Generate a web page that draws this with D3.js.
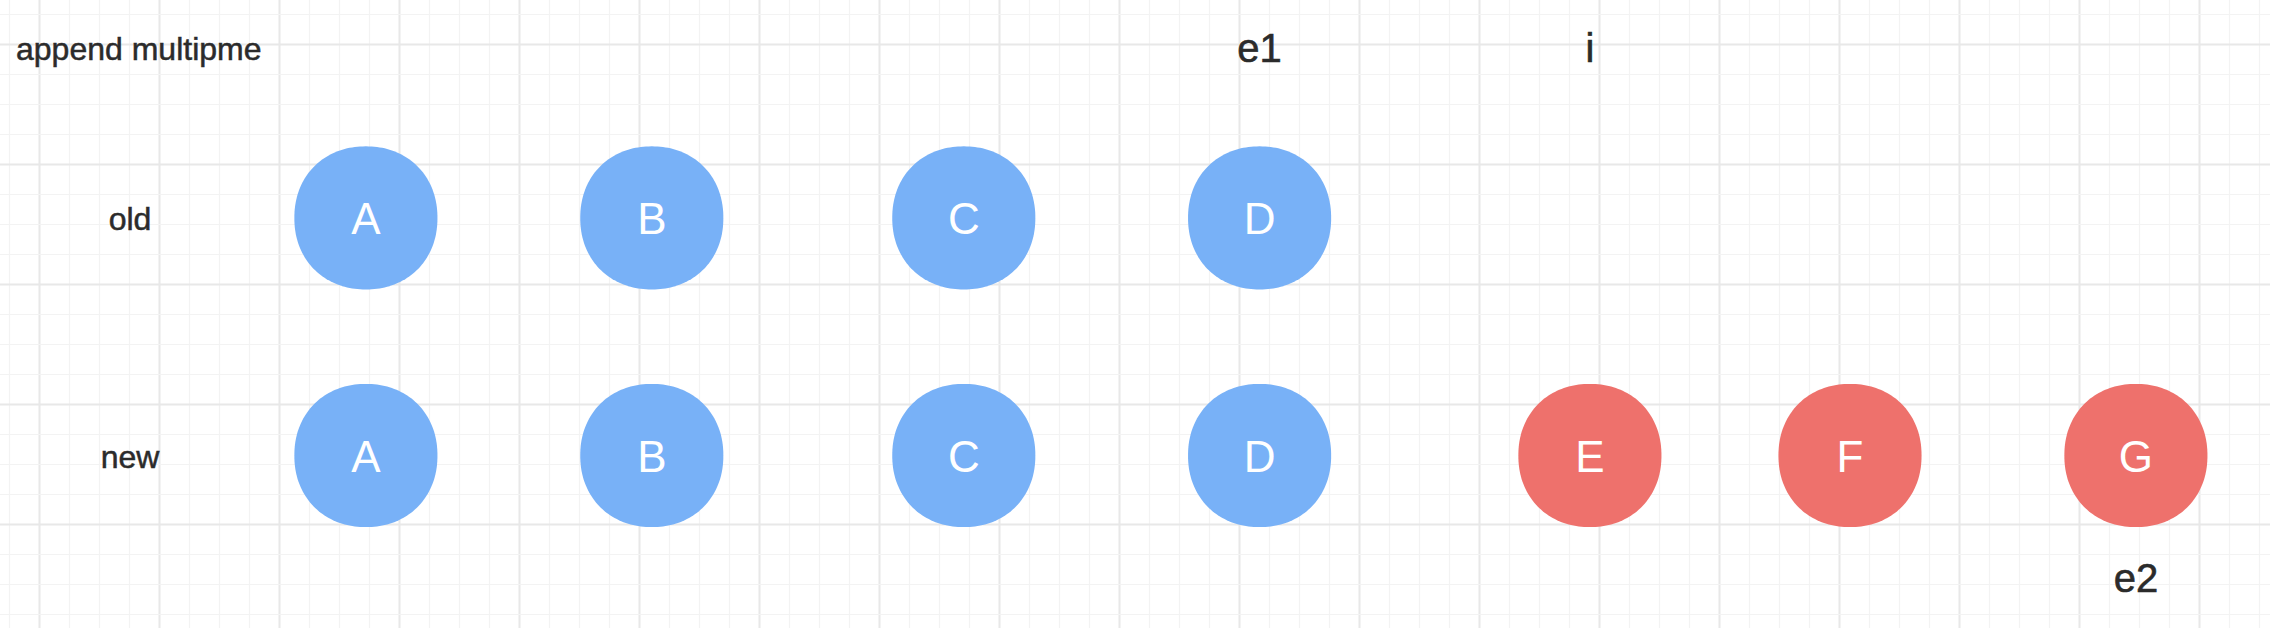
<!DOCTYPE html>
<html>
<head>
<meta charset="utf-8">
<script src="https://cdn.jsdelivr.net/npm/d3@7"></script>
<style>
  body { margin: 0; background: #fff; }
  svg { display: block; }
</style>
</head>
<body>
<svg id="board"></svg>
<script>
var width = 2270,
    height = 628;

// board data, positions in grid cells
let columns = ['A', 'B', 'C', 'D', 'E', 'F', 'G'],
    columnAt = [10.88, 20.41, 30.81, 40.67, 51.68, 60.35, 69.88],
    rows = ['old', 'new'],
    rowAt = [5.78, 13.7],
    oldList = ['A', 'B', 'C', 'D'],
    newList = ['A', 'B', 'C', 'D', 'E', 'F', 'G'],
    newState = ['keep', 'keep', 'keep', 'keep', 'add', 'add', 'add'],
    pointers = ['e1', 'i', 'e2'],
    pointerCol = ['D', 'E', 'G'],
    pointerRow = ['old', 'old', 'new'],
    title = 'append multipme';

let svg = d3.select('#board').attr('width', width).attr('height', height);

// 1 unit = one small grid cell (30px)
let x = d3.scaleLinear().domain([0, 1]).range([39.5, 69.5]),
    y = d3.scaleLinear().domain([0, 1]).range([44.5, 74.5]),
    colX = d3.scaleOrdinal().domain(columns).range(columnAt.map(function(d){ return x(d); })),
    rowY = d3.scaleOrdinal().domain(rows).range(rowAt.map(function(d){ return y(d); })),
    fill = d3.scaleOrdinal().domain(['keep', 'add']).range(['#78b1f7', '#ee716c']);

// grid
let gridX = d3.range(-1, 76), gridY = d3.range(-1, 21);
svg.append('rect').attr('width', width).attr('height', height).attr('fill', '#fff');
let grid = svg.append('g').attr('class', 'grid');
grid.selectAll('.vx')
    .data(gridX)
    .enter()
    .append('line')
    .attr('x1', function(d){ return x(d); })
    .attr('x2', function(d){ return x(d); })
    .attr('y1', 0)
    .attr('y2', height)
    .attr('stroke', function(d){ return d % 4 === 0 ? '#e8e8e8' : '#f3f3f3'; })
    .attr('stroke-width', function(d){ return d % 4 === 0 ? 2 : 1.2; });
grid.selectAll('.hy')
    .data(gridY)
    .enter()
    .append('line')
    .attr('y1', function(d){ return y(d); })
    .attr('y2', function(d){ return y(d); })
    .attr('x1', 0)
    .attr('x2', width)
    .attr('stroke', function(d){ return d % 4 === 0 ? '#e8e8e8' : '#f3f3f3'; })
    .attr('stroke-width', function(d){ return d % 4 === 0 ? 2 : 1.2; });

// rounded blob shape (superellipse)
let half = (x(4.77) - x(0)) / 2;
function blob(r, n) {
    let pts = d3.range(0, 2 * Math.PI, Math.PI / 90).map(function(t){
        let c = Math.cos(t), s = Math.sin(t);
        return [r * Math.sign(c) * Math.pow(Math.abs(c), 2 / n),
                r * Math.sign(s) * Math.pow(Math.abs(s), 2 / n)];
    });
    return d3.line().curve(d3.curveLinearClosed)(pts);
}
let blobPath = blob(half, 2.12);

let font = 'Liberation Sans, Arial, Helvetica, sans-serif';

function drawRow(list, states, row) {
    let g = svg.append('g').attr('class', 'row-' + row);
    let node = g.selectAll('.node')
        .data(list)
        .enter()
        .append('g')
        .attr('class', 'node')
        .attr('transform', function(d){ return 'translate(' + colX(d) + ',' + rowY(row) + ')'; });
    node.append('path')
        .attr('d', blobPath)
        .attr('fill', function(d, i){ return fill(states[i]); });
    node.append('text')
        .attr('text-anchor', 'middle')
        .attr('y', 16)
        .attr('font-family', font)
        .attr('font-size', '44px')
        .attr('fill', '#fff')
        .text(function(d){ return d; });
}
drawRow(oldList, oldList.map(function(){ return 'keep'; }), 'old');
drawRow(newList, newState, 'new');

// row labels
svg.selectAll('.row-label')
    .data(rows)
    .enter()
    .append('text')
    .attr('class', 'row-label')
    .attr('text-anchor', 'middle')
    .attr('x', 130)
    .attr('y', function(d){ return rowY(d) + 12; })
    .attr('font-family', font)
    .attr('font-size', '32px')
    .attr('fill', '#2b2b2b')
    .attr('stroke', '#2b2b2b')
    .attr('stroke-width', 0.5)
    .text(function(d){ return d; });

svg.append('text')
    .attr('x', 16)
    .attr('y', 60)
    .attr('font-family', font)
    .attr('font-size', '32px')
    .attr('fill', '#2b2b2b')
    .attr('stroke', '#2b2b2b')
    .attr('stroke-width', 0.5)
    .text(title);

// pointers: above the old row or below the new row
svg.selectAll('.pointer')
    .data(pointers)
    .enter()
    .append('text')
    .attr('class', 'pointer')
    .attr('text-anchor', 'middle')
    .attr('x', function(d, i){ return colX(pointerCol[i]); })
    .attr('y', function(d, i){
        return pointerRow[i] === 'old' ? rowY('old') - 156 : rowY('new') + 136;
    })
    .attr('font-family', font)
    .attr('font-size', '40px')
    .attr('fill', '#2b2b2b')
    .attr('stroke', '#2b2b2b')
    .attr('stroke-width', 0.6)
    .text(function(d){ return d; });
</script>
</body>
</html>
